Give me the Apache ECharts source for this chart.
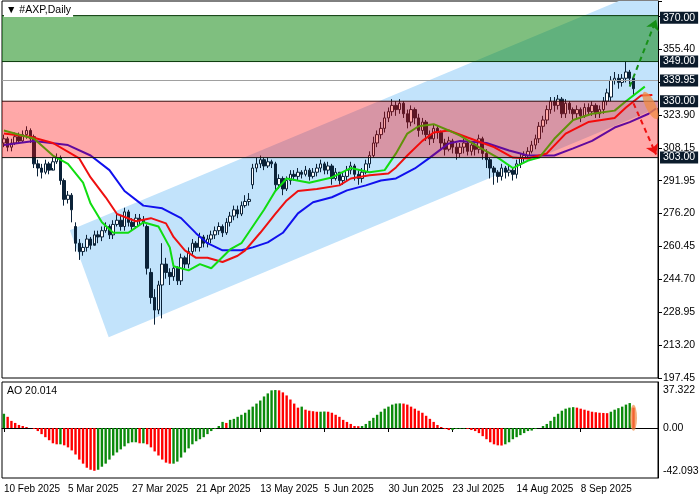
<!DOCTYPE html>
<html><head><meta charset="utf-8">
<script src="https://cdn.jsdelivr.net/npm/echarts@6/dist/echarts.min.js"></script>
<style>html,body{margin:0;padding:0;background:#fff}#c{width:700px;height:500px}</style>
</head><body><div id="c"></div>
<script>
const opens=[310,312,308,310,313,311,314,316, 313, 300,298,296,300,297,301,303, 292,283,285, 270,262,258,260,264,261, 266,265,268,270,266,271,273, 270,277,272,270,274,273, 270, 248,236,230,242,252, 248,246,250,244,255,252,258,262, 260,265,262,264,266,268,270,267, 272,275,278,276,280,282, 290,298,300,302,299,301, 300,290,293,288,292,295, 294,296,295,297,294,296,298,300,297, 299,293,296,292,294,297, 299,295,293,296,300,304, 310,314,317,322,325,328, 326,329,324,320,326,322,316,320, 314,312,317,315,310,307,311,308, 305,308,310,306,309,307,312,305, 302,298,296,294,298,296,297, 295,300,303,304,306,309, 312,318,321,326,330,328,331,324,329, 326,324,326,323,327,325,328,324, 326,330,332,340,341,339,341,344,341];
const closes=[312,308,310,313,311,314,316,312, 300, 298,296,300,297,301,303,292, 283,285,278, 262,258,260,264,261,266, 265,268,270,266,271,273,270, 277,272,270,274,273,272, 250, 236,230,242,252,248, 246,250,244,255,252,258,262,260, 265,262,264,266,268,270,267,272, 275,278,276,280,282,283, 298,300,302,299,301,300, 290,293,288,292,295,294, 296,295,297,294,296,298,300,297,299, 293,296,292,294,297,299, 295,293,296,300,304,310, 314,317,322,325,328,326, 329,324,320,326,322,316,320,314, 312,317,315,310,307,311,308,305, 308,310,306,309,307,312,305,302, 298,296,294,298,296,297,295, 300,303,304,306,309,312, 318,321,326,330,328,331,324,329,326, 324,326,323,327,325,328,324,326, 330,334,340,341,339,341,344,341,336];
const highs=[314,313,312,315,315,316,318,317, 314, 302,300,302,301,303,305,304, 293,287,286, 272,264,262,266,265,268, 268,270,272,271,273,276,275, 279,278,274,276,276,275, 271, 250,240,244,262,255, 250,252,251,257,256,260,264,263, 267,266,266,268,270,272,271,274, 277,280,280,282,285,286, 300,303,304,303,303,302, 301,295,294,294,297,297, 298,297,299,298,298,300,302,301,301, 300,298,296,296,299,301, 300,297,298,302,306,313, 316,320,325,327,331,330, 331,330,326,328,327,324,322,321, 316,319,318,316,312,313,312,310, 310,312,311,311,310,314,313,307, 303,299,297,300,299,299,298, 302,305,306,308,311,314, 320,323,328,332,332,333,332,331,330, 327,328,327,329,329,330,329,328, 332,336,342,344,343,343,349,345,342];
const lows=[308,306,306,309,310,310,312,310, 298, 294,293,295,295,298,300,290, 280,281,272, 258,254,256,258,259,262, 262,263,267,264,264,270,268, 268,270,268,269,271,270, 247, 233,223,228,226,245, 242,244,242,242,250,250,256,258, 258,260,260,262,264,266,265,266, 270,273,274,275,279,280, 288,296,298,297,298,298, 287,288,285,287,290,292, 292,293,294,292,293,294,296,295,295, 290,292,290,290,292,295, 292,290,291,295,298,303, 308,312,315,320,323,323, 324,322,317,318,319,313,314,311, 309,310,312,307,304,306,305,302, 303,305,304,304,304,305,302,298, 293,290,291,292,293,294,292, 293,298,301,303,305,307, 310,315,319,324,325,326,322,322,324, 321,322,320,322,323,323,322,322, 324,328,330,338,336,337,339,338,333];
const aoValues=[14,11,7,5,3,2,1,0,-1,-3,-6,-9,-12,-15,-16,-16, -17,-19,-22,-26,-31,-35,-39,-41,-42, -41,-38,-35,-31,-27,-24,-21,-18,-15,-14,-14, -15,-15,-16,-19,-23,-27,-31,-34,-35,-35, -33,-29,-24,-20,-16,-13,-11,-9,-6,-3,-1, 2,6,5,8,9,11,13,15,18,21,24,27,31,34,37,37.3, 37,35,32,28,24,20,21,18,17,16.5,16, 16,16.2,16,15,13,11,8,6,4,2,1.8, 2,4,7,10,13,16,19,21,23,24,24.2,24,23, 21,19,17,15,12,9,6,3,1,-1,-2, -2,-1,-0.8,-0.7,-1,-2,-3, -5,-8,-11,-14,-16,-17,-17.2, -16,-14,-11,-9,-7,-5,-3,-2.5,-1,0,2,4, 7,11,14,17,19,20,20.5, 20,19,18,17,16,15.5,15,14.8,14.6, 16,18,19.5,21,23,24.5,20.014];
// Alligator lines: [bar, price]
const lipsGreen=[[0,316],[8,312],[13,304],[17,300],[21,291],[23,281],[26,272],[29,267],[33,267],[37,272],[41,270],[44,260],[45,251],[49,249],[52,252],[55,250],[60,259],[63,262],[66,270],[69,278],[72,287],[75,293],[81,291],[87,293.5],[92,298],[97,296],[101,297],[104,305],[107,314.5],[110,318],[114,319],[118,316],[121,313.5],[126,308],[131,303],[135,298],[139,301.6],[142,303],[146,312],[151,321],[156,324],[162,325.5],[165,330],[170,337]];
const teethRed=[[0,314.5],[7,313],[13,310],[20,302.6],[23,293.5],[27,284],[30,276],[35,272.5],[39,274],[43,271.5],[45,265],[48,258.6],[51,255],[54,255],[58,253],[62,256],[64,258.6],[68,267],[72,276],[75,282.5],[78,287],[83,288],[89,289.7],[92,293],[97,294.5],[102,295.4],[104,298.3],[107,304],[111,311],[114,315],[118,316],[123,312.6],[130,308],[135,303],[139,302.6],[144,305],[149,314.5],[155,320],[162,322],[165,327],[169,332.7],[172,333]];
const jawBlue=[[0,309],[8,311],[17,309],[23,304],[28,297],[32,287],[37,280],[42,278.7],[47,274],[51,266.7],[54,262],[58,258.6],[63,258.6],[66,260],[70,262.4],[74,267],[78,276.3],[82,281.6],[87,284],[91,287.3],[96,289.7],[100,292],[104,293],[109,297.8],[113,303],[118,309.8],[121,311],[128,310],[134,306.4],[139,304],[146,304],[151,307.4],[156,311],[162,317.4],[166,320],[171,324],[173,326.5]];
const channel=[[17.5,268.2],[27.8,217],[185,335.5],[185,394.5]];
const zones=[[349,371,'rgba(0,128,0,0.5)'],[303,330,'rgba(255,0,0,0.34)']];
const levelBoxes=[370,349,339.95,330,303];
const priceTickLabels=['197.45','213.20','228.95','244.70','260.45','276.20','291.95','308.15','323.90','','355.40',''];
const aoTickLabels=[[37.322,'37.322'],[0,'0.00'],[-42.093,'-42.093']];
const dateTicks=[[0,'10 Feb 2025'],[17,'5 Mar 2025'],[34,'27 Mar 2025'],[51,'21 Apr 2025'],[68,'13 May 2025'],[85,'5 Jun 2025'],[102,'30 Jun 2025'],[119,'23 Jul 2025'],[136,'14 Aug 2025'],[153,'8 Sep 2025']];

const NCAT=174;
const cats=Array.from({length:NCAT},(_,i)=>String(i));
const dateMap={};dateTicks.forEach(d=>dateMap[d[0]]=d[1]);
const candle=opens.map((o,i)=>[o,closes[i],lows[i],highs[i]]);
const aoData=aoValues.map((v,i)=>({value:v,itemStyle:{color:(i>0&&v<aoValues[i-1])?'#ff0000':'#0b8a0b'}}));
const F='Liberation Sans';

const chart=echarts.init(document.getElementById('c'),null,{renderer:'canvas'});
chart.setOption({
animation:false,
textStyle:{fontFamily:F},
grid:[{left:2,right:42,top:1,height:377,show:true,borderColor:'#000',borderWidth:1,backgroundColor:'#fff'},
      {left:2,right:42,top:382,height:96,show:true,borderColor:'#000',borderWidth:1}],
xAxis:[
 {type:'category',data:cats,gridIndex:0,axisLine:{show:false},axisTick:{show:false},axisLabel:{show:false}},
 {type:'value',gridIndex:0,min:-0.5,max:NCAT-0.5,show:false},
 {type:'category',data:cats,gridIndex:1,axisLine:{show:true,lineStyle:{color:'#000'}},
  axisTick:{show:true,length:4,interval:(i)=>dateMap[i]!==undefined,lineStyle:{color:'#000'},alignWithLabel:true},
  axisLabel:{interval:(i)=>dateMap[i]!==undefined,formatter:(v,i)=>dateMap[i]||'',align:'left',margin:6,fontSize:10,color:'#000',fontFamily:F}}
],
yAxis:[
 {type:'value',gridIndex:0,position:'right',min:197.45,max:378,interval:15.75,
  axisLine:{show:true,onZero:false,lineStyle:{color:'#000'}},axisTick:{show:true,length:4,lineStyle:{color:'#000'}},splitLine:{show:false},
  axisLabel:{margin:5,fontSize:10.5,color:'#000',fontFamily:F,formatter:(v)=>{const k=Math.round((v-197.45)/15.75);return priceTickLabels[k]||'';}}},
 {type:'value',gridIndex:1,position:'right',min:-49.1,max:45.2,
  axisLine:{show:true,onZero:false,lineStyle:{color:'#000'}},axisTick:{show:false},splitLine:{show:false},axisLabel:{show:false}}
],
graphic:[
 {type:'text',left:4,top:4,z:100,style:{text:'▼ #AXP,Daily',fontSize:10.5,fontFamily:F,fill:'#000',backgroundColor:'#fff',padding:[1,2]}},
 {type:'text',left:7,top:386,z:100,style:{text:'AO 20.014',fontSize:10.5,fontFamily:F,fill:'#000'}}
],
series:[
 {type:'custom',xAxisIndex:1,yAxisIndex:0,z:1,clip:true,silent:true,data:[0],
  renderItem:(p,api)=>({type:'polygon',shape:{points:channel.map(c=>api.coord(c))},style:{fill:'#c2e3fb'}})},
 {type:'candlestick',xAxisIndex:0,yAxisIndex:0,z:2,data:candle,barWidth:3,
  itemStyle:{color:'#ffffff',color0:'#0b2238',borderColor:'#0b2238',borderColor0:'#0b2238',borderWidth:1}},
 {type:'line',xAxisIndex:1,yAxisIndex:0,z:3,data:jawBlue,showSymbol:false,lineStyle:{color:'#1010ee',width:2}},
 {type:'line',xAxisIndex:1,yAxisIndex:0,z:3,data:teethRed,showSymbol:false,lineStyle:{color:'#ee1010',width:2}},
 {type:'line',xAxisIndex:1,yAxisIndex:0,z:3,data:lipsGreen,showSymbol:false,lineStyle:{color:'#10dd10',width:2},
  markLine:{silent:true,symbol:['none','arrow'],symbolSize:10,label:{show:false},
   data:[[{coord:[166,337],lineStyle:{color:'#169016',type:[5,4],width:2}},{coord:[173,369]}],
         [{coord:[167,329],lineStyle:{color:'#ee1010',type:[5,4],width:2}},{coord:[173,304.5]}]]}},
 {type:'custom',xAxisIndex:1,yAxisIndex:0,z:4,clip:true,silent:true,data:zones,
  renderItem:(p,api)=>{const cs=p.coordSys;const z=zones[p.dataIndex];const y1=api.coord([0,z[1]])[1],y0=api.coord([0,z[0]])[1];
   return {type:'group',children:[
    {type:'rect',shape:{x:cs.x,y:y1,width:cs.width,height:y0-y1},style:{fill:z[2]}},
    {type:'line',shape:{x1:cs.x,y1:y1,x2:cs.x+cs.width,y2:y1},style:{stroke:p.dataIndex==0?'#0a3a0a':'#3a0a0a',lineWidth:1}},
    {type:'line',shape:{x1:cs.x,y1:y0,x2:cs.x+cs.width,y2:y0},style:{stroke:p.dataIndex==0?'#0a3a0a':'#111',lineWidth:1}}]};}},
 {type:'custom',xAxisIndex:1,yAxisIndex:0,z:5,silent:true,data:[0],
  renderItem:(p,api)=>{const c=api.coord([171.5,328]);return {type:'circle',x:c[0],y:c[1],scaleX:5,scaleY:15,rotation:0.45,shape:{cx:0,cy:0,r:1},style:{fill:'rgba(240,140,70,0.75)'}};}},
 {type:'line',xAxisIndex:1,yAxisIndex:0,z:6,data:[],
  markLine:{silent:true,symbol:'none',animation:false,
   data:levelBoxes.map(v=>({yAxis:v,lineStyle:{color:v===339.95?'#a0a0a0':'rgba(0,0,0,0)',width:1,type:'solid'},
     label:{show:true,position:'end',formatter:v.toFixed(2),color:'#fff',backgroundColor:'#0b1b2b',padding:[1,3,0,3],fontSize:10.5,fontFamily:F,distance:2}}))}},
 {type:'bar',xAxisIndex:2,yAxisIndex:1,data:aoData,barWidth:2.4,
  markLine:{silent:true,symbol:'none',data:aoTickLabels.map(t=>({yAxis:t[0],lineStyle:{color:'rgba(0,0,0,0)'},label:{show:true,position:'end',formatter:t[1],color:'#000',fontSize:10.5,fontFamily:F,distance:5}}))}},
 {type:'custom',xAxisIndex:2,yAxisIndex:1,z:5,silent:true,data:[0],
  renderItem:(p,api)=>{const c=api.coord([167,10]);return {type:'circle',x:c[0],y:c[1],scaleX:3.5,scaleY:13,shape:{cx:0,cy:0,r:1},style:{fill:'rgba(240,140,70,0.7)'}};}}
]
});
</script></body></html>
